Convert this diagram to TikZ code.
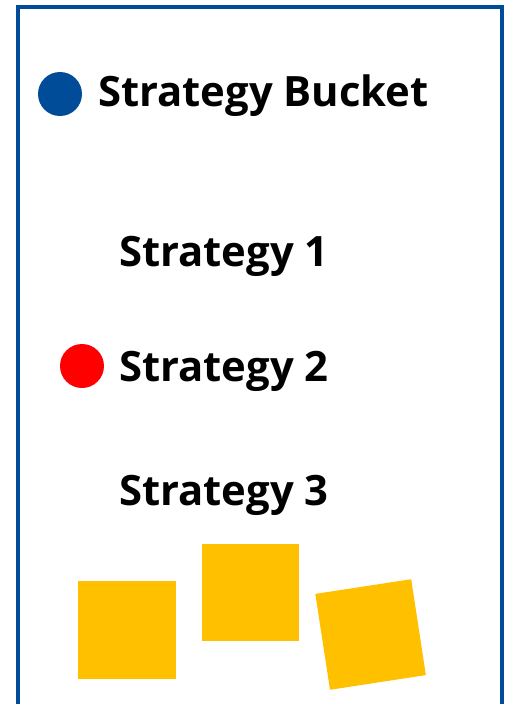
\documentclass[tikz,border=0pt]{standalone}
\usepackage{fontspec}
\setmainfont{Open Sans}
\usepackage{tikz}
\usetikzlibrary{positioning}
\definecolor{bucketblue}{HTML}{004C99}
\definecolor{pickred}{HTML}{FF0000}
\definecolor{chipyellow}{HTML}{FFC000}

\begin{document}
\begin{tikzpicture}[x=1pt,y=-1pt,
  every node/.style={font=\fontsize{41.8}{48}\selectfont\bfseries},
  label/.style={inner sep=0pt,anchor=base west},
  dot/.style={circle,inner sep=0pt,minimum size=44pt},
  chip/.style={fill=chipyellow,inner sep=0pt,minimum size=97pt}]
\useasboundingbox (0,0) rectangle (505,704);
% rahmen, unten offen
\draw[bucketblue,line width=4pt] (18,710) -- (18,7) -- (502,7) -- (502,710);
\node[dot,fill=bucketblue] (bluedot) at (60,94) {};
\node[label] (title) at (98,106) {Strategy Bucket};
\node[label] (s1) at (119,266.7) {Strategy 1};
\node[label] (s2) at (119,381.7) {Strategy 2};
\node[label] (s3) at (119,505) {Strategy 3};
\node[dot,fill=pickred] (reddot) at (82,366) {};
\node[chip,minimum size=98pt] (sq1) at (127,630) {};
\node[chip] (sq2) at (250,592.5) {};
\node[chip,rotate=8.7] (sq3) at (370.6,634.5) {};
\end{tikzpicture}
\end{document}
